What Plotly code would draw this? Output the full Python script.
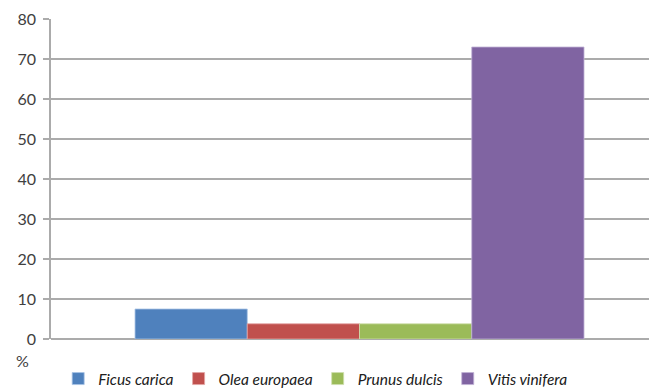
import plotly.graph_objects as go

# Species share (%)
species = ["Ficus carica", "Olea europaea", "Prunus dulcis", "Vitis vinifera"]
values = [7.5, 3.8, 3.8, 73.0]
colors = ["#4F81BD", "#C0504D", "#9BBB59", "#8064A2"]
edge_colors = ["#A9C4E6", "#E3A6A4", "#CFE0AE", "#C0B2D6"]
y_ticks = [0, 10, 20, 30, 40, 50, 60, 70, 80]

fig = go.Figure()
for name, val, col, edge in zip(species, values, colors, edge_colors):
    fig.add_trace(go.Bar(
        x=[""], y=[val], name=f"<i>{name}</i>",
        marker=dict(color=col, line=dict(color=edge, width=0.8)),
    ))

fig.update_layout(
    width=649, height=389,
    margin=dict(l=51, r=0, t=19, b=50, autoexpand=False),
    barmode="group", bargap=0.2, bargroupgap=0,
    plot_bgcolor="white", paper_bgcolor="white",
    font=dict(family="Lato, Open Sans, sans-serif", size=16, color="#404040"),
    showlegend=True,
    legend=dict(
        orientation="h", x=0.012, xanchor="left", y=-0.125, yanchor="middle",
        font=dict(size=15.5, color="#202020"), traceorder="normal",
        itemwidth=30,
    ),
    xaxis=dict(
        range=[-0.5497, 0.5158], showticklabels=False, showgrid=False,
        zeroline=False, showline=False, ticks="",
    ),
    yaxis=dict(
        range=[0, 80], tickvals=y_ticks, showgrid=True, gridcolor="#ABABAB",
        gridwidth=1.5, zeroline=True, zerolinecolor="#ABABAB", zerolinewidth=1.5,
        showline=True, linecolor="#ABABAB", linewidth=1.5,
        ticks="outside", ticklen=6, tickcolor="#ABABAB", tickwidth=1.5,
        ticklabelstandoff=4,
    ),
    annotations=[dict(
        text="%", xref="paper", yref="paper", x=-0.048, y=-0.068,
        xanchor="center", yanchor="middle", showarrow=False,
        font=dict(size=16, color="#404040"),
    )],
)

fig.write_html("out.html")
